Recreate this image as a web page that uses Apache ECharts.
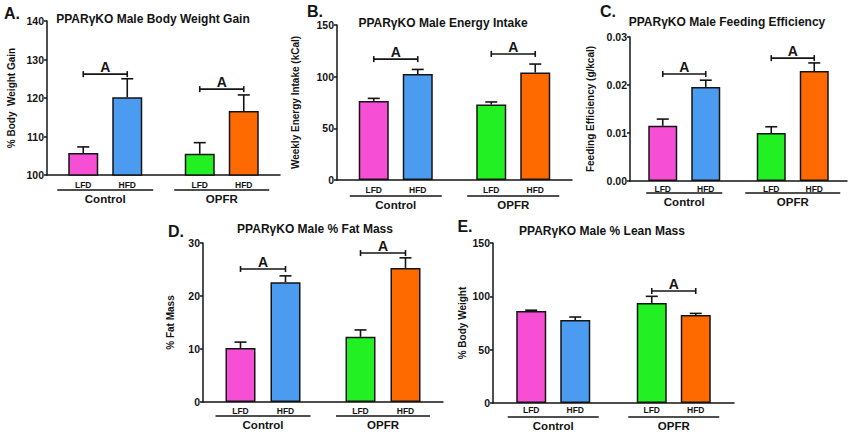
<!DOCTYPE html>
<html>
<head>
<meta charset="utf-8">
<script src="https://cdn.jsdelivr.net/npm/echarts@6/dist/echarts.min.js"></script>
<style>html,body{margin:0;padding:0;background:#fff;}#chart{width:849px;height:432px;}</style>
</head>
<body>
<div id="chart"></div>
<script>
// ---------- data ----------
const categories = ['Control', 'OPFR'];
const diets = ['LFD', 'HFD'];
const sigLabel = 'A';

// A. Body weight gain (%)
const gainLFD = [105.7, 105.5];
const gainHFD = [120.2, 116.6];
const gainErrLFD = [1.6, 2.9];
const gainErrHFD = [4.8, 4.2];
const gainSig = [126.2, 122.3];
const gainTicks = [100, 110, 120, 130, 140];

// B. Weekly energy intake (kCal)
const intakeLFD = [76.5, 73.0];
const intakeHFD = [102.6, 104.0];
const intakeErrLFD = [2.5, 2.5];
const intakeErrHFD = [4.4, 8.2];
const intakeSig = [117, 122];
const intakeTicks = [0, 50, 100, 150];

// C. Feeding efficiency (g/kcal)
const effLFD = [0.0115, 0.0100];
const effHFD = [0.0196, 0.0229];
const effErrLFD = [0.0014, 0.0013];
const effErrHFD = [0.0014, 0.0017];
const effSig = [0.0223, 0.0256];
const effTicks = [0, 0.01, 0.02, 0.03];

// D. % Fat mass
const fatLFD = [10.2, 12.3];
const fatHFD = [22.6, 25.3];
const fatErrLFD = [1.1, 1.3];
const fatErrHFD = [1.2, 1.9];
const fatSig = [25.1, 28.1];
const fatTicks = [0, 10, 20, 30];

// E. % Lean mass
const leanLFD = [86.3, 93.8];
const leanHFD = [77.8, 82.5];
const leanErrLFD = [0.7, 6.2];
const leanErrHFD = [2.8, 1.5];
const leanSig = [null, 105];
const leanTicks = [0, 50, 100, 150];

// ---------- styles / layout ----------
const barColors = [['#F64FD6', '#4B9CF0'], ['#22F022', '#FF6A00']]; // [group][diet]
const FONT = '"Liberation Sans", Arial, sans-serif';
const INK = '#141414';

const panels = [
  { letter: 'A.', title: 'PPARγKO Male Body Weight Gain', yName: '% Body  Weight Gain',
    lfd: gainLFD, hfd: gainHFD, errL: gainErrLFD, errH: gainErrHFD, sig: gainSig, ticks: gainTicks, dec: 0,
    grid: { left: 47, top: 21, width: 233, height: 154 }, bw: 30, gap: 14, nameGap: 31,
    titleXY: [153, 19], letterXY: [12, 13], ruleW: [96, 95], xMargin: 14, lblDist: 5 },
  { letter: 'B.', title: 'PPARγKO Male Energy Intake', yName: 'Weekly Energy Intake (kCal)',
    lfd: intakeLFD, hfd: intakeHFD, errL: intakeErrLFD, errH: intakeErrHFD, sig: intakeSig, ticks: intakeTicks, dec: 0,
    grid: { left: 337, top: 25, width: 235, height: 155 }, bw: 30, gap: 14, nameGap: 37,
    titleXY: [443, 23], letterXY: [315, 11], ruleW: [92, 92], xMargin: 15, lblDist: 5 },
  { letter: 'C.', title: 'PPARγKO Male Feeding Efficiency', yName: 'Feeding Efficiency (g/kcal)',
    lfd: effLFD, hfd: effHFD, errL: effErrLFD, errH: effErrHFD, sig: effSig, ticks: effTicks, dec: 2,
    grid: { left: 630, top: 37, width: 217, height: 144 }, bw: 29, gap: 14, nameGap: 35,
    titleXY: [727, 22], letterXY: [608, 11], ruleW: [76, 95], xMargin: 11, lblDist: 3 },
  { letter: 'D.', title: 'PPARγKO Male % Fat Mass', yName: '% Fat Mass',
    lfd: fatLFD, hfd: fatHFD, errL: fatErrLFD, errH: fatErrHFD, sig: fatSig, ticks: fatTicks, dec: 0,
    grid: { left: 203, top: 243, width: 240, height: 159 }, bw: 30, gap: 15, nameGap: 28,
    titleXY: [315, 229], letterXY: [176, 231], ruleW: [95, 94], xMargin: 13, lblDist: 4 },
  { letter: 'E.', title: 'PPARγKO Male % Lean Mass', yName: '% Body Weight',
    lfd: leanLFD, hfd: leanHFD, errL: leanErrLFD, errH: leanErrHFD, sig: leanSig, ticks: leanTicks, dec: 0,
    grid: { left: 493, top: 243, width: 241, height: 160 }, bw: 30, gap: 14, nameGap: 26,
    titleXY: [602, 231], letterXY: [465, 226], ruleW: [91, 91], xMargin: 13, lblDist: 2 }
];

const grids = [], xAxes = [], yAxes = [], series = [], graphics = [];

panels.forEach(function (p, i) {
  grids.push(Object.assign({ containLabel: false }, p.grid));
  const rich = {
    n: { fontFamily: FONT, fontWeight: 'bold', fontSize: 11.5, color: INK, lineHeight: 16 }
  };
  p.ruleW.forEach(function (w, k) {
    rich['r' + k] = { width: w, height: 1.6, lineHeight: 2, fontSize: 1, backgroundColor: INK };
  });
  xAxes.push({
    type: 'category', gridIndex: i, data: categories,
    axisLine: { lineStyle: { color: INK, width: 1.5 } },
    axisTick: { alignWithLabel: true, length: 3, lineStyle: { color: INK, width: 1.5 } },
    axisLabel: {
      interval: 0, margin: p.xMargin,
      formatter: function (v, idx) { return '{r' + idx + '| }\n{n|' + v + '}'; },
      rich: rich
    }
  });
  const tk = p.ticks;
  yAxes.push({
    type: 'value', gridIndex: i,
    min: tk[0], max: tk[tk.length - 1], interval: tk[1] - tk[0],
    name: p.yName, nameLocation: 'middle', nameGap: p.nameGap,
    nameTextStyle: { fontFamily: FONT, fontWeight: 'bold', fontSize: 10, color: INK },
    axisLine: { show: true, lineStyle: { color: INK, width: 1.5 } },
    axisTick: { show: true, length: 3, lineStyle: { color: INK, width: 1.5 } },
    splitLine: { show: false },
    axisLabel: {
      margin: 3, fontFamily: FONT, fontWeight: 'bold', fontSize: 10.5, color: INK,
      formatter: function (v) { return v.toFixed(p.dec); }
    }
  });

  const means = [p.lfd, p.hfd];
  const errs = [p.errL, p.errH];
  const gapPct = (p.gap / p.bw * 100).toFixed(1) + '%';
  const step = p.bw + p.gap;

  diets.forEach(function (d, di) {
    series.push({
      type: 'bar', name: d, xAxisIndex: i, yAxisIndex: i,
      barWidth: p.bw, barGap: gapPct,
      data: means[di].map(function (v, g) {
        return { value: v, itemStyle: { color: barColors[g][di] } };
      }),
      itemStyle: { borderColor: INK, borderWidth: 1.5 },
      label: {
        show: true, position: 'bottom', distance: p.lblDist,
        formatter: d, fontFamily: FONT, fontWeight: 'bold', fontSize: 8.5, color: INK
      },
      emphasis: { disabled: true },
      animation: false
    });
  });

  diets.forEach(function (d, di) {
    series.push({
      type: 'custom', name: d + ' SEM', xAxisIndex: i, yAxisIndex: i,
      encode: { x: 0, y: 1 }, clip: false, silent: true, animation: false, z: 3,
      data: means[di].map(function (v, g) { return [g, v, errs[di][g]]; }),
      renderItem: function (params, api) {
        const b = api.coord([api.value(0), api.value(1)]);
        const t = api.coord([api.value(0), api.value(1) + api.value(2)]);
        const x = b[0] + (di - 0.5) * step;
        const st = { stroke: INK, lineWidth: 1.6 };
        return { type: 'group', children: [
          { type: 'line', shape: { x1: x, y1: b[1], x2: x, y2: t[1] }, style: st },
          { type: 'line', shape: { x1: x - 6, y1: t[1], x2: x + 6, y2: t[1] }, style: st }
        ] };
      }
    });
  });

  series.push({
    type: 'custom', name: 'significance', xAxisIndex: i, yAxisIndex: i,
    encode: { x: 0, y: 1 }, clip: false, silent: true, animation: false, z: 4,
    data: p.sig.map(function (v, g) { return v == null ? null : [g, v]; }).filter(function (v) { return v; }),
    renderItem: function (params, api) {
      const c = api.coord([api.value(0), api.value(1)]);
      const x1 = c[0] - step / 2, x2 = c[0] + step / 2, y = c[1];
      const st = { stroke: INK, lineWidth: 1.6 };
      return { type: 'group', children: [
        { type: 'line', shape: { x1: x1, y1: y, x2: x2, y2: y }, style: st },
        { type: 'line', shape: { x1: x1, y1: y - 3, x2: x1, y2: y + 3 }, style: st },
        { type: 'line', shape: { x1: x2, y1: y - 3, x2: x2, y2: y + 3 }, style: st },
        { type: 'text', style: { x: c[0], y: y, text: sigLabel, align: 'center', verticalAlign: 'bottom',
            font: 'bold 14px ' + FONT, fill: INK } }
      ] };
    }
  });

  graphics.push({
    type: 'text', x: p.titleXY[0], y: p.titleXY[1],
    style: { text: p.title, align: 'center', verticalAlign: 'middle', font: 'bold 12px ' + FONT, fill: INK }
  });
  graphics.push({
    type: 'text', x: p.letterXY[0], y: p.letterXY[1],
    style: { text: p.letter, align: 'center', verticalAlign: 'middle', font: 'bold 16px ' + FONT, fill: INK }
  });
});

const chart = echarts.init(document.getElementById('chart'), null, { renderer: 'svg' });
chart.setOption({
  animation: false,
  backgroundColor: '#fff',
  grid: grids,
  xAxis: xAxes,
  yAxis: yAxes,
  series: series,
  graphic: graphics
});
</script>
</body>
</html>
